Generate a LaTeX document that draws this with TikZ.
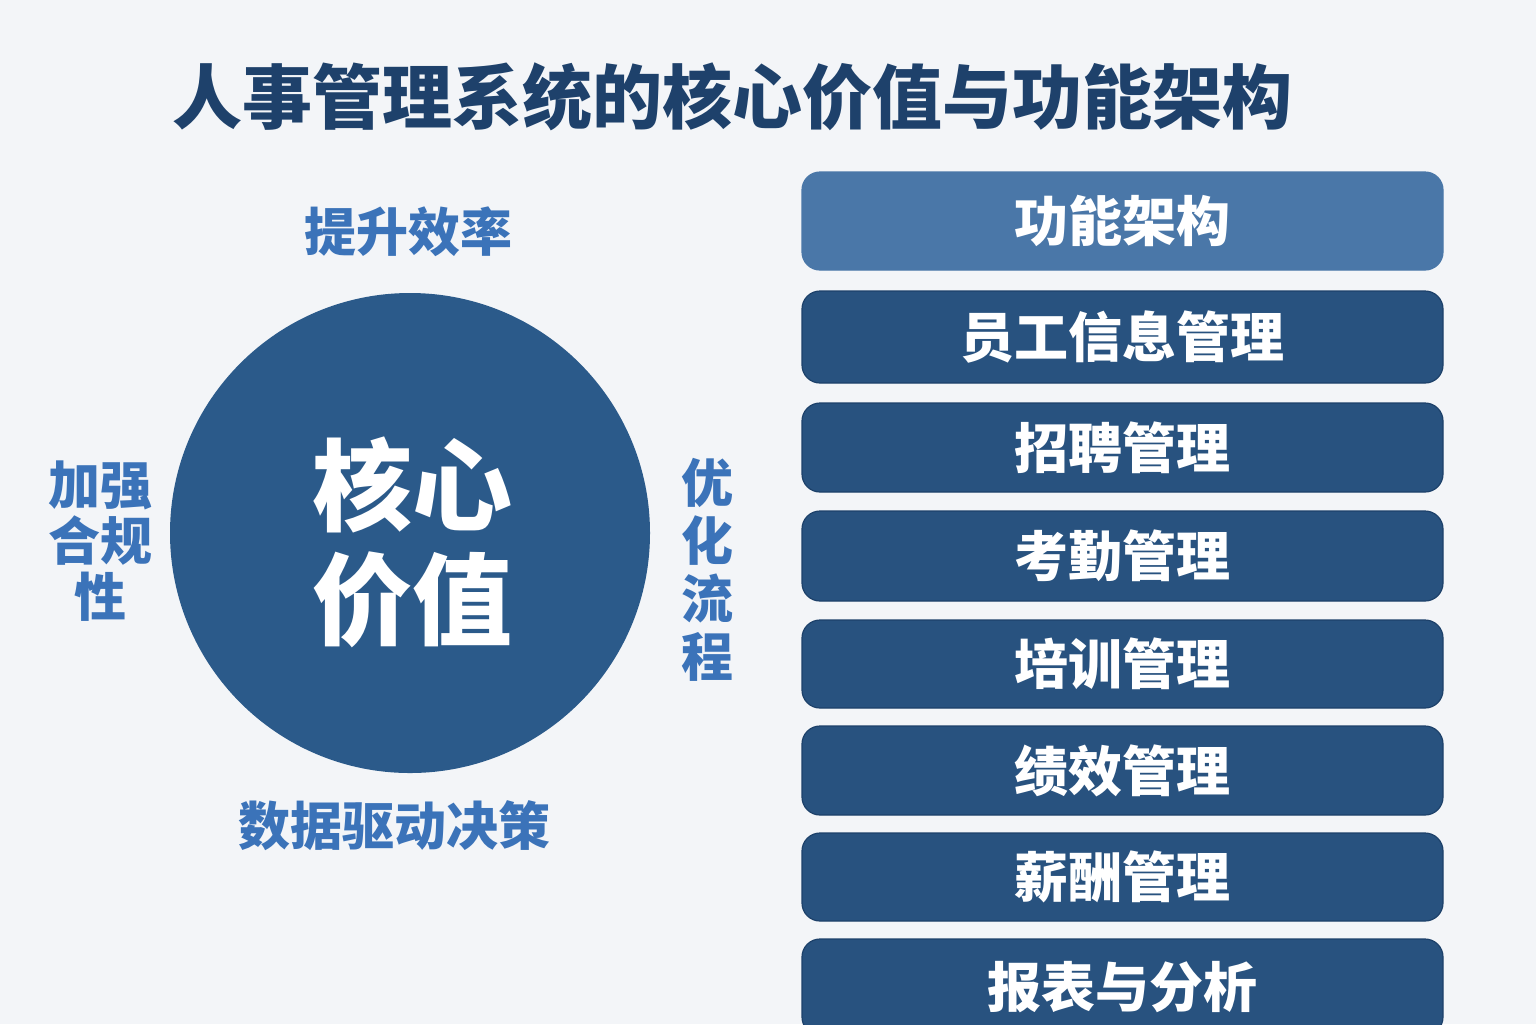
\documentclass[tikz,border=0pt]{standalone}
\usepackage{fontspec}
\setmainfont{Noto Sans CJK SC}
\definecolor{bgc}{HTML}{F3F5F8}
\definecolor{titlec}{HTML}{1E416B}
\definecolor{circc}{HTML}{2B5A8A}
\definecolor{labc}{HTML}{3B73B9}
\definecolor{boxc}{HTML}{28527F}
\definecolor{headc}{HTML}{4A77A8}
\definecolor{boxline}{HTML}{1D416A}
\begin{document}
\begin{tikzpicture}[x=0.5pt,y=-0.5pt,
  lab/.style={text=labc, font=\bfseries\fontsize{26}{29}\selectfont, align=center, inner sep=0pt},
  fbox/.style={rectangle, rounded corners=9pt, minimum width=320.5pt, fill=boxc, draw=boxline, line width=0.6pt,
    text=white, font=\bfseries\fontsize{27}{27}\selectfont, inner sep=0pt}]
\useasboundingbox (0,0) rectangle (1536,1024);
\clip (0,0) rectangle (1536,1024);
\fill[bgc] (0,0) rectangle (1536,1024);
\node[font=\bfseries\fontsize{35}{40}\selectfont, text=titlec, inner sep=0pt] (title) at (732,97) {人事管理系统的核心价值与功能架构};
% core circle
\node[circle, fill=circc, minimum size=240pt, inner sep=0pt] (core) at (410,533) {};
\node[text=white, font=\bfseries\fontsize{50}{50}\selectfont, inner sep=0pt] (c1) at (412,485) {核心};
\node[text=white, font=\bfseries\fontsize{50}{50}\selectfont, inner sep=0pt] (c2) at (412,600) {价值};
% labels
\node[lab] (top) at (408,232) {提升效率};
\node[lab] (bottom) at (394,826) {数据驱动决策};
\node[lab, font=\bfseries\fontsize{26}{28}\selectfont] (left) at (100,541) {加强\\合规\\性};
\node[lab] (right) at (707,570) {优\\化\\流\\程};
% function boxes
\node[fbox, fill=headc, draw=headc, minimum height=49pt] (b1) at (1122.5,221) {功能架构};
\node[fbox, minimum height=46pt] (b2) at (1122.5,337) {员工信息管理};
\node[fbox, minimum height=44.5pt] (b3) at (1122.5,447.5) {招聘管理};
\node[fbox, minimum height=45pt] (b4) at (1122.5,556) {考勤管理};
\node[fbox, minimum height=44pt] (b5) at (1122.5,664) {培训管理};
\node[fbox, minimum height=44.5pt] (b6) at (1122.5,770.5) {绩效管理};
\node[fbox, minimum height=44pt] (b7) at (1122.5,877) {薪酬管理};
\node[fbox, minimum height=48pt] (b8) at (1122.5,987) {报表与分析};
\end{tikzpicture}
\end{document}
